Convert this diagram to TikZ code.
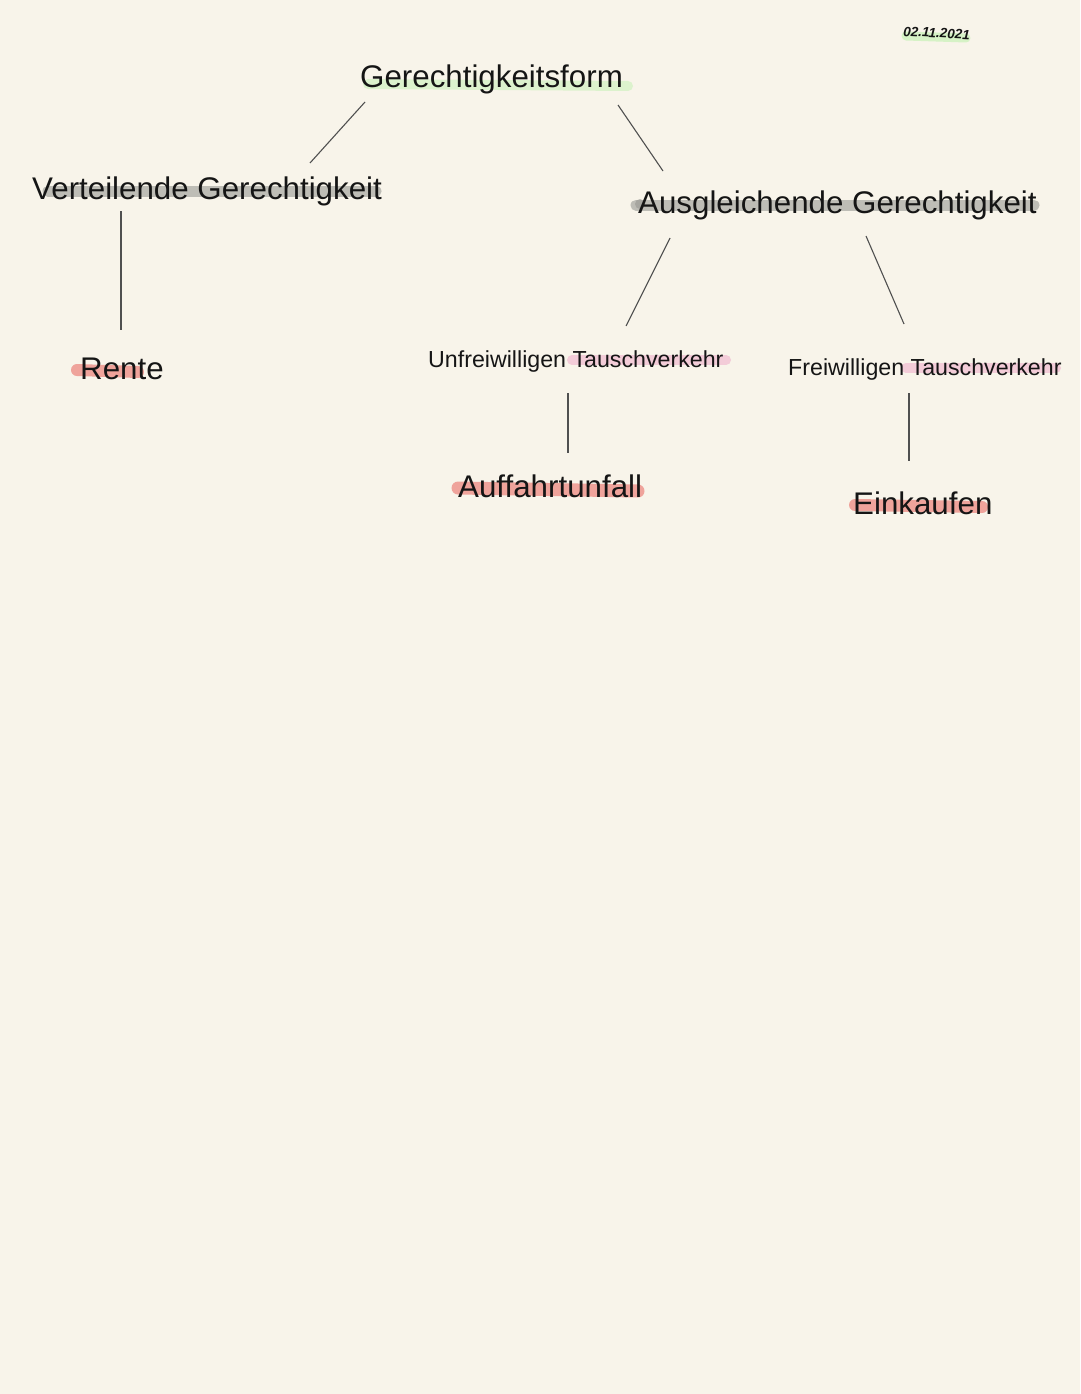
\documentclass[tikz,border=0pt]{standalone}
\usepackage{fontspec}
\setmainfont{Liberation Sans}
\definecolor{paper}{HTML}{F8F4EA}
\definecolor{hlgreen}{HTML}{D6F2C6}
\definecolor{hlgrey}{HTML}{BEBDB6}
\definecolor{hlpink}{HTML}{F3CCD8}
\definecolor{hlred}{HTML}{EFA39B}
\definecolor{ink}{HTML}{151515}
\definecolor{wire}{HTML}{505050}
\begin{document}
\begin{tikzpicture}[x=1pt,y=-1pt,
  big/.style={anchor=base west,inner sep=0pt,text=ink,font=\fontsize{31.3}{37}\selectfont},
  mid/.style={anchor=base west,inner sep=0pt,text=ink,font=\fontsize{23.2}{27}\selectfont},
  datestyle/.style={anchor=base west,inner sep=0pt,text=ink,font=\fontsize{13.5}{15}\selectfont\itshape\bfseries},
  hl/.style={line width=#1,line cap=round},
  link/.style={draw=wire,line width=1.1pt}]
\fill[paper] (0,0) rectangle (1080,1394);
\useasboundingbox (0,0) rectangle (1080,1394);
% highlights
\draw[hl=9pt,hlgreen] (906,36) -- (966,38);
\draw[hl=10pt,hlgreen,opacity=0.8] (368,84) -- (628,86);
\draw[hl=11pt,hlgrey] (48,191) -- (376,191);
\draw[hl=11pt,hlgrey] (636,205) -- (1034,205);
\fill[hlgrey!80!black,opacity=0.6] (640,204) circle (5pt);
\draw[hl=10pt,hlpink] (572,360) -- (726,360);
\draw[hl=10pt,hlpink] (906,368) -- (1056,368);
\draw[hl=12pt,hlred] (77,370) -- (138,372);
\draw[hl=13pt,hlred] (458,488) -- (638,491);
\draw[hl=12pt,hlred] (855,505) -- (982,507);
% texts
\node[datestyle,rotate=-3] (date) at (903,36) {02.11.2021};
\node[big] (root) at (360,88) {Gerechtigkeitsform};
\node[big] (vert) at (32,199) {Verteilende Gerechtigkeit};
\node[big] (ausg) at (638,213) {Ausgleichende Gerechtigkeit};
\node[mid] (unfr) at (428,367) {Unfreiwilligen Tauschverkehr};
\node[mid] (frei) at (788,375) {Freiwilligen Tauschverkehr};
\node[big] (rente) at (80,379) {Rente};
\node[big] (auff) at (458,497) {Auffahrtunfall};
\node[big] (eink) at (853,514) {Einkaufen};
% connector ends
\coordinate (r1) at (365,102); \coordinate (v1) at (310,163);
\coordinate (r2) at (618,105); \coordinate (a1) at (663,171);
\coordinate (v2) at (121,211); \coordinate (re1) at (121,330);
\coordinate (a2) at (670,238); \coordinate (u1) at (626,326);
\coordinate (a3) at (866,236); \coordinate (f1) at (904,324);
\coordinate (u2) at (568,393); \coordinate (au1) at (568,453);
\coordinate (f2) at (909,393); \coordinate (e1) at (909,461);
\draw[link] (r1) -- (v1);
\draw[link] (r2) -- (a1);
\draw[link] (v2) -- (re1);
\draw[link] (a2) -- (u1);
\draw[link] (a3) -- (f1);
\draw[link] (u2) -- (au1);
\draw[link] (f2) -- (e1);
\end{tikzpicture}
\end{document}
